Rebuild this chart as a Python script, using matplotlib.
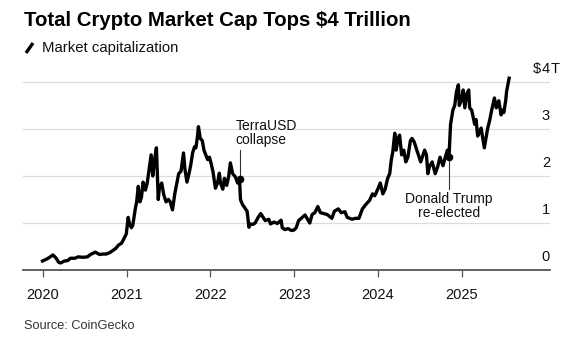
import matplotlib
matplotlib.use("Agg")
import matplotlib.pyplot as plt
from matplotlib.lines import Line2D
import pandas as pd

plt.rcParams['font.family'] = ['Liberation Sans', 'DejaVu Sans']

# total crypto market cap, trillions of USD
dates = [
    "2020-01-01", "2020-01-18", "2020-02-01", "2020-02-15", "2020-02-28", "2020-03-12",
    "2020-03-20", "2020-04-05", "2020-04-20", "2020-05-01", "2020-05-20", "2020-06-05",
    "2020-06-25", "2020-07-15", "2020-07-28", "2020-08-18", "2020-09-05", "2020-09-20",
    "2020-10-05", "2020-10-20", "2020-11-01", "2020-11-15", "2020-11-27", "2020-12-10",
    "2020-12-20", "2020-12-31", "2021-01-08", "2021-01-14", "2021-01-22", "2021-01-28",
    "2021-02-08", "2021-02-14", "2021-02-21", "2021-02-28", "2021-03-07", "2021-03-14",
    "2021-03-24", "2021-04-01", "2021-04-14", "2021-04-18", "2021-04-25", "2021-05-03",
    "2021-05-11", "2021-05-19", "2021-05-24", "2021-06-03", "2021-06-12", "2021-06-22",
    "2021-07-02", "2021-07-10", "2021-07-20", "2021-07-30", "2021-08-08", "2021-08-16",
    "2021-08-26", "2021-09-06", "2021-09-12", "2021-09-21", "2021-09-30", "2021-10-08",
    "2021-10-16", "2021-10-24", "2021-10-30", "2021-11-06", "2021-11-10", "2021-11-18",
    "2021-11-27", "2021-12-04", "2021-12-12", "2021-12-20", "2021-12-28", "2022-01-05",
    "2022-01-12", "2022-01-23", "2022-02-01", "2022-02-09", "2022-02-14", "2022-02-24",
    "2022-03-03", "2022-03-13", "2022-03-22", "2022-03-29", "2022-04-08", "2022-04-20",
    "2022-04-30", "2022-05-08", "2022-05-12", "2022-05-20", "2022-05-31", "2022-06-10",
    "2022-06-18", "2022-06-25", "2022-07-05", "2022-07-15", "2022-07-28", "2022-08-08",
    "2022-08-15", "2022-08-28", "2022-09-12", "2022-09-20", "2022-10-05", "2022-10-20",
    "2022-11-05", "2022-11-10", "2022-11-21", "2022-12-05", "2022-12-20", "2022-12-31",
    "2023-01-10", "2023-01-20", "2023-02-01", "2023-02-17", "2023-02-28", "2023-03-10",
    "2023-03-20", "2023-04-01", "2023-04-14", "2023-04-25", "2023-05-10", "2023-05-25",
    "2023-06-14", "2023-06-25", "2023-07-12", "2023-07-25", "2023-08-10", "2023-08-20",
    "2023-09-10", "2023-09-25", "2023-10-10", "2023-10-25", "2023-11-10", "2023-11-25",
    "2023-12-08", "2023-12-18", "2023-12-31", "2024-01-11", "2024-01-22", "2024-02-01",
    "2024-02-12", "2024-02-21", "2024-02-28", "2024-03-05", "2024-03-14", "2024-03-20",
    "2024-03-28", "2024-04-04", "2024-04-13", "2024-04-22", "2024-05-01", "2024-05-10",
    "2024-05-21", "2024-05-28", "2024-06-07", "2024-06-18", "2024-06-25", "2024-07-05",
    "2024-07-15", "2024-07-22", "2024-07-30", "2024-08-05", "2024-08-12", "2024-08-24",
    "2024-09-06", "2024-09-17", "2024-09-27", "2024-10-10", "2024-10-20", "2024-10-29",
    "2024-11-05", "2024-11-12", "2024-11-22", "2024-11-30", "2024-12-08", "2024-12-16",
    "2024-12-20", "2024-12-28", "2025-01-06", "2025-01-13", "2025-01-22", "2025-01-30",
    "2025-02-03", "2025-02-12", "2025-02-25", "2025-03-03", "2025-03-10", "2025-03-20",
    "2025-03-25", "2025-04-08", "2025-04-15", "2025-04-22", "2025-05-02", "2025-05-10",
    "2025-05-22", "2025-05-30", "2025-06-10", "2025-06-20", "2025-06-26", "2025-07-02",
    "2025-07-10", "2025-07-14", "2025-07-20", "2025-07-25",
]
market_cap = [
    0.19, 0.23, 0.27, 0.32, 0.26, 0.16,
    0.15, 0.19, 0.20, 0.25, 0.25, 0.28,
    0.27, 0.28, 0.33, 0.38, 0.33, 0.34,
    0.34, 0.37, 0.41, 0.46, 0.53, 0.57,
    0.66, 0.77, 1.12, 0.98, 0.90, 0.95,
    1.30, 1.45, 1.78, 1.45, 1.55, 1.87,
    1.70, 1.85, 2.30, 2.45, 2.00, 2.35,
    2.60, 1.50, 1.75, 1.85, 1.60, 1.45,
    1.50, 1.45, 1.28, 1.62, 1.85, 2.05,
    2.10, 2.49, 2.15, 1.87, 2.05, 2.25,
    2.50, 2.62, 2.60, 2.85, 3.05, 2.80,
    2.75, 2.55, 2.45, 2.35, 2.40, 2.25,
    2.10, 1.74, 1.85, 2.06, 1.85, 1.72,
    1.95, 1.80, 2.00, 2.28, 2.05, 1.98,
    1.85, 1.94, 1.50, 1.40, 1.32, 1.25,
    0.91, 0.98, 0.97, 1.00, 1.12, 1.20,
    1.15, 1.05, 1.08, 0.98, 1.02, 0.99,
    1.06, 0.90, 0.86, 0.88, 0.84, 0.85,
    0.90, 1.05, 1.10, 1.17, 1.08, 1.00,
    1.18, 1.22, 1.35, 1.22, 1.20, 1.18,
    1.10, 1.25, 1.30, 1.22, 1.24, 1.12,
    1.08, 1.10, 1.10, 1.30, 1.40, 1.48,
    1.62, 1.58, 1.72, 1.85, 1.62, 1.72,
    1.95, 2.05, 2.35, 2.50, 2.91, 2.55,
    2.80, 2.87, 2.45, 2.55, 2.30, 2.40,
    2.75, 2.80, 2.72, 2.55, 2.45, 2.30,
    2.45, 2.55, 2.45, 2.05, 2.20, 2.30,
    2.05, 2.20, 2.40, 2.22, 2.40, 2.55,
    2.40, 3.10, 3.40, 3.50, 3.80, 3.94,
    3.50, 3.60, 3.83, 3.45, 3.75, 3.83,
    3.45, 3.40, 3.10, 3.20, 2.85, 2.95,
    3.02, 2.60, 2.80, 3.00, 3.20, 3.40,
    3.66, 3.45, 3.60, 3.30, 3.40, 3.35,
    3.60, 3.80, 3.95, 4.08,
]

events = ["2022-05-08", "2024-11-05"]
event_labels = ["TerraUSD\ncollapse", "Donald Trump\nre-elected"]

years = [2020, 2021, 2022, 2023, 2024, 2025]
y_ticks = [0, 1, 2, 3, 4]

series = pd.Series(market_cap, index=pd.to_datetime(dates))

fig = plt.figure(figsize=(5.72, 3.43), dpi=100)
ax = fig.add_axes([23 / 572, 1 - 270 / 343, (550 - 23) / 572, 197.4 / 343])

ax.plot(series.index, series.values, color='black', lw=2.4,
        solid_joinstyle='round', zorder=3)

ax.set_xlim(pd.Timestamp("2019-10-08"), pd.Timestamp("2026-01-19"))
ax.set_ylim(0, 4.2)

for s in ['top', 'right', 'left']:
    ax.spines[s].set_visible(False)
ax.spines['bottom'].set_color('#555555')
ax.spines['bottom'].set_linewidth(1.3)

for v in y_ticks[1:]:
    ax.axhline(v, color='#dcdcdc', lw=0.9, zorder=1)

ax.set_yticks([])
ax.set_xticks([pd.Timestamp(f"{y}-01-01") for y in years])
ax.set_xticklabels([str(y) for y in years], fontsize=10.5, color='#111111')
ax.tick_params(axis='x', length=5, width=0.9, color='#555555', pad=8)

# right-hand value labels sitting just above each gridline
for v in y_ticks:
    ax.annotate(str(v), xy=(1.0, v), xycoords=('axes fraction', 'data'),
                xytext=(0, 4), textcoords='offset points',
                ha='right', va='bottom', fontsize=10.5, color='#111111')
ax.annotate("$", xy=(1.0, 4), xycoords=('axes fraction', 'data'),
            xytext=(-6.4, 4), textcoords='offset points',
            ha='right', va='bottom', fontsize=10.5, color='#111111')
ax.annotate("T", xy=(1.0, 4), xycoords=('axes fraction', 'data'),
            xytext=(0.5, 4), textcoords='offset points',
            ha='left', va='bottom', fontsize=10.5, color='#111111')

# event markers with leader lines
terra = pd.Timestamp(events[0])
trump = pd.Timestamp(events[1])
terra_v = series[terra]
trump_v = series[trump]
ax.plot([terra, trump], [terra_v, trump_v], 'o', color='black', ms=4.5, zorder=4)
ax.plot([terra, terra], [terra_v, 2.55], color='#333333', lw=0.8, zorder=2)
ax.plot([trump, trump], [trump_v, 1.72], color='#333333', lw=0.8, zorder=2)
ax.text(terra - pd.Timedelta(days=17), 2.62, event_labels[0], fontsize=10,
        ha='left', va='bottom', linespacing=1.0, color='#111111')
ax.text(trump, 1.66, event_labels[1], fontsize=10,
        ha='center', va='top', linespacing=1.0, color='#111111')

fig.text(24 / 572, 1 - 20 / 343, "Total Crypto Market Cap Tops $4 Trillion",
         fontsize=14.7, fontweight='bold', ha='left', va='center', color='black')
fig.add_artist(Line2D([26 / 572, 33 / 572], [1 - 53 / 343, 1 - 43 / 343],
                      color='black', lw=2.4, solid_capstyle='butt'))
fig.text(42 / 572, 1 - 48 / 343, "Market capitalization", fontsize=10.7,
         ha='left', va='center', color='#111111')
fig.text(24 / 572, 1 - 326 / 343, "Source: CoinGecko", fontsize=9.2,
         ha='left', va='center', color='#333333')

fig.savefig('out.png', dpi=100)
